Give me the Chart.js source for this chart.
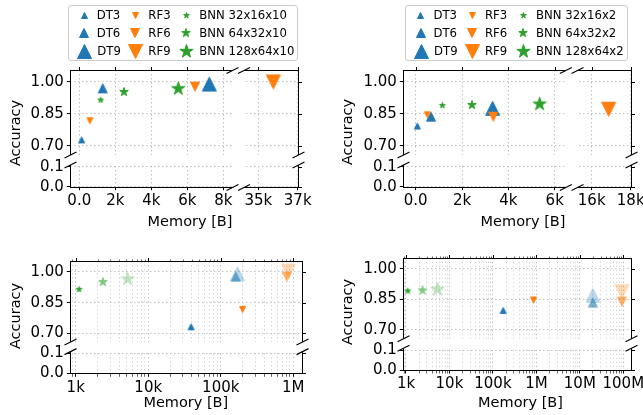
<!DOCTYPE html>
<html>
<head>
<meta charset="utf-8">
<script src="https://cdn.jsdelivr.net/npm/chart.js"></script>
<style>
  html, body { margin: 0; padding: 0; background: #fff; }
  body { width: 643px; height: 415px; position: relative; overflow: hidden; font-family: 'DejaVu Sans', sans-serif; }
  canvas.panel { position: absolute; }
  .legend {
    position: absolute; top: 5px; z-index: 2;
    display: grid; grid-template-rows: repeat(3, 18px); grid-auto-flow: column;
    grid-template-columns: 44px 44px auto; column-gap: 7px;
    padding: 0 3px 0 7px; border: 1px solid #ccc; border-radius: 3px;
    background: rgba(255, 255, 255, 0.8); font-size: 11.7px; color: #000;
  }
  .legend .item { display: flex; align-items: center; white-space: nowrap; }
  .legend .mk { width: 16px; height: 18px; margin-right: 5px; display: flex; justify-content: center; align-items: center; }
  .legend canvas { display: block; flex: none; }
</style>
</head>
<body>
<script>
// --- data ---
const namesLeft = ['DT3', 'DT6', 'DT9', 'RF3', 'RF6', 'RF9', 'BNN 32x16x10', 'BNN 64x32x10', 'BNN 128x64x10'];
const namesRight = ['DT3', 'DT6', 'DT9', 'RF3', 'RF6', 'RF9', 'BNN 32x16x2', 'BNN 64x32x2', 'BNN 128x64x2'];

// memory [B] and accuracy, same order as the names
const memTL = [130, 1300, 7220, 590, 6430, 35760, 1190, 2480, 5500];
const accTL = [0.727, 0.969, 0.989, 0.817, 0.977, 0.999, 0.914, 0.952, 0.967];
const memTR = [70, 660, 3320, 500, 3350, 16870, 1150, 2430, 5350];
const accTR = [0.792, 0.836, 0.875, 0.845, 0.836, 0.871, 0.889, 0.891, 0.895];
const memBL = [39000, 161000, 170000, 200000, 813000, 857000, 1110, 2380, 5200];
const accBL = [0.732, 0.977, 0.992, 0.817, 0.977, 1.005, 0.915, 0.951, 0.966];
const memBR = [172000, 2.0e7, 2.0e7, 860000, 9.3e7, 9.3e7, 1100, 2400, 5300];
const accBR = [0.796, 0.834, 0.870, 0.847, 0.839, 0.888, 0.891, 0.894, 0.899];

// ticks
const accTicksHi = [0.70, 0.85, 1.00];
const accLabelsHi = ['0.70', '0.85', '1.00'];
const accTicksLo = [0.0, 0.1];
const accLabelsLo = ['0.0', '0.1'];
const memTicksL1 = [0, 2000, 4000, 6000, 8000];
const memLabelsL1 = ['0.0', '2k', '4k', '6k', '8k'];
const memTicksL2 = [35000, 37000];
const memLabelsL2 = ['35k', '37k'];
const memTicksR1 = [0, 2000, 4000, 6000];
const memLabelsR1 = ['0.0', '2k', '4k', '6k'];
const memTicksR2 = [16000, 18000];
const memLabelsR2 = ['16k', '18k'];
const logTicksL = [1e3, 1e4, 1e5, 1e6];
const logLabelsL = ['1k', '10k', '100k', '1M'];
const logTicksR = [1e3, 1e4, 1e5, 1e6, 1e7, 1e8];
const logLabelsR = ['1k', '10k', '100k', '1M', '10M', '100M'];

const xTitleText = 'Memory [B]';
const yTitleText = 'Accuracy';

// --- styles ---
const seriesColor = ['#1f77b4', '#1f77b4', '#1f77b4', '#ff7f0e', '#ff7f0e', '#ff7f0e', '#2ca02c', '#2ca02c', '#2ca02c'];
const seriesShape = ['up', 'up', 'up', 'down', 'down', 'down', 'star', 'star', 'star'];
const markerSize = [7, 10, 15];
const fadeAlpha = [1, 0.6, 0.3];

Chart.defaults.font.family = "'DejaVu Sans', sans-serif";
Chart.defaults.font.size = 15;
Chart.defaults.color = '#000';

const Y_W = 40, X_H = 24;

const panels = [
  { canvas: [0, 50, 322, 187], area: { left: 70.3, top: 70, right: 297.7, bottom: 186.7 },
    xs: [{ min: -500, max: 8511, w: 162.2, ticks: memTicksL1, labels: memLabelsL1 }, { gap: 11.5 },
         { min: 34274, max: 37000, w: 53.7, ticks: memTicksL2, labels: memLabelsL2 }],
    ys: [{ min: 0.6563, max: 1.0549, h: 85, ticks: accTicksHi, labels: accLabelsHi }, { gap: 10 },
         { min: 0, max: 0.1085, h: 21.7, ticks: accTicksLo, labels: accLabelsLo }],
    names: namesLeft, mem: memTL, acc: accTL, fade: false, xTitle: [190, 222.5], yTitle: [16, 133], legendLeft: 68.3 },
  { canvas: [322, 50, 340, 187], area: { left: 403.3, top: 70, right: 630.7, bottom: 186.7 },
    xs: [{ min: -535, max: 6479, w: 162.5, ticks: memTicksR1, labels: memLabelsR1 }, { gap: 11.7 },
         { min: 15272, max: 18000, w: 53.2, ticks: memTicksR2, labels: memLabelsR2 }],
    ys: [{ min: 0.6563, max: 1.0549, h: 85, ticks: accTicksHi, labels: accLabelsHi }, { gap: 10 },
         { min: 0, max: 0.1085, h: 21.7, ticks: accTicksLo, labels: accLabelsLo }],
    names: namesRight, mem: memTR, acc: accTR, fade: false, xTitle: [523, 222.5], yTitle: [348, 132], legendLeft: 405 },
  { canvas: [0, 240, 322, 175], area: { left: 70.3, top: 261, right: 301.7, bottom: 373.3 },
    xs: [{ log: true, min: 842, max: 1.306e6, w: 231.4, ticks: logTicksL, labels: logLabelsL }],
    ys: [{ min: 0.6574, max: 1.0538, h: 81, ticks: accTicksHi, labels: accLabelsHi }, { gap: 9.6 },
         { min: 0, max: 0.1085, h: 21.7, ticks: accTicksLo, labels: accLabelsLo }],
    names: namesLeft, mem: memBL, acc: accBL, fade: true, xTitle: [185.8, 403], yTitle: [16, 316] },
  { canvas: [322, 237, 340, 178], area: { left: 403.3, top: 257.7, right: 631, bottom: 370 },
    xs: [{ log: true, min: 867, max: 1.503e8, w: 227.7, ticks: logTicksR, labels: logLabelsR }],
    ys: [{ min: 0.6574, max: 1.0538, h: 81, ticks: accTicksHi, labels: accLabelsHi }, { gap: 9.6 },
         { min: 0, max: 0.1085, h: 21.7, ticks: accTicksLo, labels: accLabelsLo }],
    names: namesRight, mem: memBR, acc: accBR, fade: true, xTitle: [520.5, 403], yTitle: [348, 312] }
];

// matplotlib-like filled markers as small canvases
function marker(i, alpha) {
  const size = markerSize[i % 3];
  const d = Math.ceil(size) + 4;
  const solid = document.createElement('canvas');
  solid.width = solid.height = d;
  const g = solid.getContext('2d');
  g.translate(d / 2, d / 2);
  const r = (size - 1) / 2;
  g.beginPath();
  if (seriesShape[i] === 'up') {
    g.moveTo(0, -r); g.lineTo(r, r); g.lineTo(-r, r);
  } else if (seriesShape[i] === 'down') {
    g.moveTo(0, r); g.lineTo(r, -r); g.lineTo(-r, -r);
  } else {
    for (let k = 0; k < 10; k++) {
      const a = -Math.PI / 2 + k * Math.PI / 5;
      const rr = k % 2 ? r * 0.382 : r;
      g.lineTo(rr * Math.cos(a), rr * Math.sin(a));
    }
  }
  g.closePath();
  g.fillStyle = g.strokeStyle = seriesColor[i];
  g.lineWidth = 1;
  g.fill(); g.stroke();
  if (alpha === 1) return solid;
  const c = document.createElement('canvas');
  c.width = c.height = d;
  const h = c.getContext('2d');
  h.globalAlpha = alpha;
  h.drawImage(solid, 0, 0);
  return c;
}

function axisTicks(s) {
  if (!s.log) return s.ticks.map(v => ({ value: v }));
  const out = [];
  for (let e = Math.floor(Math.log10(s.min)); e <= Math.ceil(Math.log10(s.max)); e++) {
    for (let k = 1; k < 10; k++) {
      const v = k * Math.pow(10, e);
      if (v >= s.min && v <= s.max) out.push({ value: v, major: k === 1 });
    }
  }
  return out;
}

function isMinor(c) { return c.tick && c.tick.major === false; }

function segScale(s, i, n, horiz) {
  const sc = {
    axis: horiz ? 'x' : 'y',
    position: horiz ? 'bottom' : 'left',
    stack: horiz ? 'x' : 'y',
    weight: horiz ? i : n - i,   // left to right / top to bottom
    afterFit: horiz ? a => { a.height = X_H; } : a => { a.width = Y_W; }
  };
  if (s.gap) {
    return Object.assign(sc, { type: 'linear', stackWeight: s.gap,
      ticks: { display: false }, grid: { display: false }, border: { display: false } });
  }
  return Object.assign(sc, {
    type: s.log ? 'logarithmic' : 'linear',
    bounds: 'data', min: s.min, max: s.max, stackWeight: horiz ? s.w : s.h,
    afterBuildTicks: a => { a.ticks = axisTicks(s); },
    ticks: {
      autoSkip: false, maxRotation: 0, minRotation: 0, padding: horiz ? 2 : 3,
      callback: v => { const k = s.ticks.indexOf(v); return k < 0 ? '' : s.labels[k]; }
    },
    grid: {
      color: c => isMinor(c) ? '#d6d6d6' : '#c0c0c0',
      lineWidth: 1, tickLength: 3.5, tickColor: '#000',
      tickWidth: c => isMinor(c) ? 0.6 : 1
    },
    border: { display: false, dash: [1.5, 2.5] }
  });
}

function panelDecor(p) {
  const cx = p.canvas[0], cy = p.canvas[1];
  return {
    id: 'panelDecor',
    beforeDatasetsDraw(chart) {
      // blank the grid inside the gaps of the broken axes
      const { ctx, chartArea: a } = chart;
      ctx.save();
      ctx.fillStyle = '#fff';
      p.xs.forEach((s, i) => {
        if (!s.gap) return;
        const sc = chart.scales['x' + i];
        ctx.fillRect(sc.left, a.top - 1, sc.right - sc.left, a.bottom - a.top + 2);
      });
      p.ys.forEach((s, i) => {
        if (!s.gap) return;
        const sc = chart.scales['y' + i];
        ctx.fillRect(a.left - 1, sc.top, a.right - a.left + 2, sc.bottom - sc.top);
      });
      ctx.restore();
    },
    afterDraw(chart) {
      const { ctx, chartArea: a } = chart;
      const px = v => Math.round(v) + 0.5;
      const L = px(a.left), R = px(a.right), T = px(a.top), B = px(a.bottom);
      const line = (x1, y1, x2, y2) => { ctx.beginPath(); ctx.moveTo(x1, y1); ctx.lineTo(x2, y2); ctx.stroke(); };
      ctx.save();
      ctx.strokeStyle = '#000';
      ctx.lineWidth = 1;

      // spines, one piece per segment
      p.xs.forEach((s, i) => {
        if (s.gap) return;
        const sc = chart.scales['x' + i];
        const x1 = i === 0 ? L - 0.5 : sc.left;
        const x2 = i === p.xs.length - 1 ? R + 0.5 : sc.right;
        line(x1, T, x2, T); line(x1, B, x2, B);
      });
      p.ys.forEach((s, i) => {
        if (s.gap) return;
        const sc = chart.scales['y' + i];
        const y1 = i === 0 ? T - 0.5 : sc.top;
        const y2 = i === p.ys.length - 1 ? B + 0.5 : sc.bottom;
        line(L, y1, L, y2); line(R, y1, R, y2);
      });

      // ticks mirrored on the top and right
      p.xs.forEach((s, i) => {
        if (s.gap) return;
        const sc = chart.scales['x' + i];
        sc.ticks.forEach(t => {
          const x = px(sc.getPixelForValue(t.value));
          ctx.lineWidth = t.major === false ? 0.6 : 1;
          line(x, T, x, T - (t.major === false ? 2 : 3.5));
        });
      });
      ctx.lineWidth = 1;
      p.ys.forEach((s, i) => {
        if (s.gap) return;
        const sc = chart.scales['y' + i];
        sc.ticks.forEach(t => {
          const y = px(sc.getPixelForValue(t.value));
          line(R, y, R + 3.5, y);
        });
      });

      // break marks
      ctx.lineWidth = 1.2;
      const slash = (x, y) => line(x - 6, y + 3, x + 6, y - 3);
      p.xs.forEach((s, i) => {
        if (!s.gap) return;
        const lft = chart.scales['x' + (i - 1)], rgt = chart.scales['x' + (i + 1)];
        [lft.right, rgt.left].forEach(x => { slash(x, T); slash(x, B); });
      });
      p.ys.forEach((s, i) => {
        if (!s.gap) return;
        const up = chart.scales['y' + (i - 1)], lo = chart.scales['y' + (i + 1)];
        [up.bottom, lo.top].forEach(y => { slash(L, y); slash(R, y); });
      });

      // axis titles
      ctx.fillStyle = '#000';
      ctx.font = "14.5px 'DejaVu Sans'";
      ctx.textAlign = 'center';
      ctx.textBaseline = 'middle';
      ctx.fillText(xTitleText, p.xTitle[0] - cx, p.xTitle[1] - cy);
      ctx.translate(p.yTitle[0] - cx, p.yTitle[1] - cy);
      ctx.rotate(-Math.PI / 2);
      ctx.fillText(yTitleText, 0, 0);
      ctx.restore();
    }
  };
}

function buildLegend(p) {
  const box = document.createElement('div');
  box.className = 'legend';
  box.style.left = p.legendLeft + 'px';
  p.names.forEach((name, i) => {
    const item = document.createElement('div');
    item.className = 'item';
    const mk = document.createElement('span');
    mk.className = 'mk';
    mk.appendChild(marker(i, 1));
    const label = document.createElement('span');
    label.textContent = name;
    item.append(mk, label);
    box.appendChild(item);
  });
  document.body.appendChild(box);
}

function buildPanel(p) {
  const [cx, cy, cw, ch] = p.canvas;
  const canvas = document.createElement('canvas');
  canvas.className = 'panel';
  canvas.width = cw; canvas.height = ch;
  canvas.style.left = cx + 'px'; canvas.style.top = cy + 'px';
  canvas.style.width = cw + 'px'; canvas.style.height = ch + 'px';
  document.body.appendChild(canvas);

  const scales = {};
  p.xs.forEach((s, i) => { scales['x' + i] = segScale(s, i, p.xs.length, true); });
  p.ys.forEach((s, i) => { scales['y' + i] = segScale(s, i, p.ys.length, false); });

  const datasets = p.names.map((name, i) => {
    const xi = p.xs.findIndex(s => !s.gap && p.mem[i] >= s.min && p.mem[i] <= s.max);
    const r = markerSize[i % 3] / 2;
    return {
      label: name,
      data: [{ x: p.mem[i], y: p.acc[i] }],
      xAxisID: 'x' + xi, yAxisID: 'y0',
      pointStyle: marker(i, p.fade ? fadeAlpha[i % 3] : 1),
      pointRadius: r, pointHoverRadius: r,
      order: -i
    };
  });

  new Chart(canvas, {
    type: 'scatter',
    data: { datasets },
    options: {
      responsive: false, animation: false, devicePixelRatio: 1, events: [],
      layout: { padding: {
        left: p.area.left - cx - Y_W,
        right: cx + cw - p.area.right,
        top: p.area.top - cy,
        bottom: cy + ch - p.area.bottom - X_H
      } },
      plugins: { legend: { display: false }, tooltip: { enabled: false } },
      scales
    },
    plugins: [panelDecor(p)]
  });

  if (p.legendLeft !== undefined) buildLegend(p);
}

panels.forEach(buildPanel);
</script>
</body>
</html>
